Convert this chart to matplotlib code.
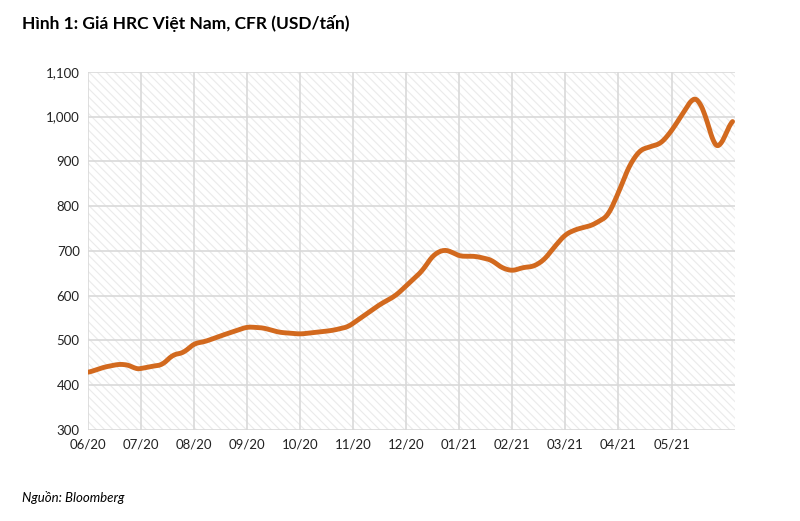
import matplotlib
matplotlib.use("Agg")
import matplotlib.pyplot as plt
import numpy as np

plt.rcParams['font.family'] = ['Lato', 'DejaVu Sans']
plt.rcParams['hatch.linewidth'] = 0.8

# month index (0 = 06/20) and price in USD/ton
month_pos = [0, 0.3, 0.6, 0.8, 0.9, 1.0, 1.2, 1.4, 1.6, 1.8, 2.0, 2.2, 2.5, 2.8, 3.0,
             3.3, 3.6, 4.0, 4.3, 4.6, 4.9, 5.2, 5.5, 5.8, 6.0, 6.3, 6.5, 6.7, 6.85,
             7.0, 7.3, 7.6, 7.8, 8.0, 8.2, 8.4, 8.6, 8.8, 9.0, 9.2, 9.5, 9.8, 10.0,
             10.2, 10.4, 10.6, 10.8, 11.0, 11.2, 11.4, 11.5, 11.65, 11.8, 11.9, 12.0, 12.15]
price = [428, 440, 447, 444, 435, 437, 442, 445, 468, 472, 493, 497, 510, 522, 530,
         528, 518, 514, 518, 522, 530, 555, 580, 600, 622, 655, 690, 703, 698,
         688, 688, 680, 662, 655, 663, 665, 680, 710, 737, 748, 757, 778, 830,
         890, 925, 933, 940, 968, 1005, 1042, 1040, 1000, 935, 930, 955, 995]
month_labels = ["06/20", "07/20", "08/20", "09/20", "10/20", "11/20", "12/20",
                "01/21", "02/21", "03/21", "04/21", "05/21"]

# smooth the drawn curve a little (data points unchanged)
xs = np.linspace(month_pos[0], month_pos[-1], 600)
ys = np.interp(xs, month_pos, price)
k = 9
kern = np.ones(k) / k
ys_s = np.convolve(np.pad(ys, k // 2, mode='edge'), kern, mode='valid')

fig = plt.figure(figsize=(8, 5.21), dpi=100)
ax = fig.add_axes([0.11, 0.175, 0.809, 0.687])

ax.fill_between([0, 12.2], 300, 1100, facecolor='white', edgecolor='#ebebeb',
                hatch='\\\\\\\\', linewidth=0, zorder=0)
ax.plot(xs, ys_s, color='#D2691E', linewidth=3.5, solid_capstyle='round', zorder=3)

ax.set_xlim(0, 12.2)
ax.set_ylim(300, 1100)
ax.set_xticks(range(12))
ax.set_xticklabels(month_labels)
ax.set_yticks(range(300, 1101, 100))
ax.set_yticklabels([f"{v:,}" for v in range(300, 1101, 100)])
ax.grid(True, color='#d9d9d9', linewidth=1.2, zorder=1)
ax.set_axisbelow(True)
for s in ax.spines.values():
    s.set_visible(False)
ax.tick_params(length=0, labelsize=9.5, colors='#222222', pad=6)

fig.text(0.028, 0.955, "Hình 1: Giá HRC Việt Nam, CFR (USD/tấn)", fontsize=12.5,
         fontweight='bold', va='center')
fig.text(0.028, 0.045, "Nguồn: Bloomberg", fontsize=9.5, style='italic', va='center')

fig.savefig("out.png", dpi=100)
